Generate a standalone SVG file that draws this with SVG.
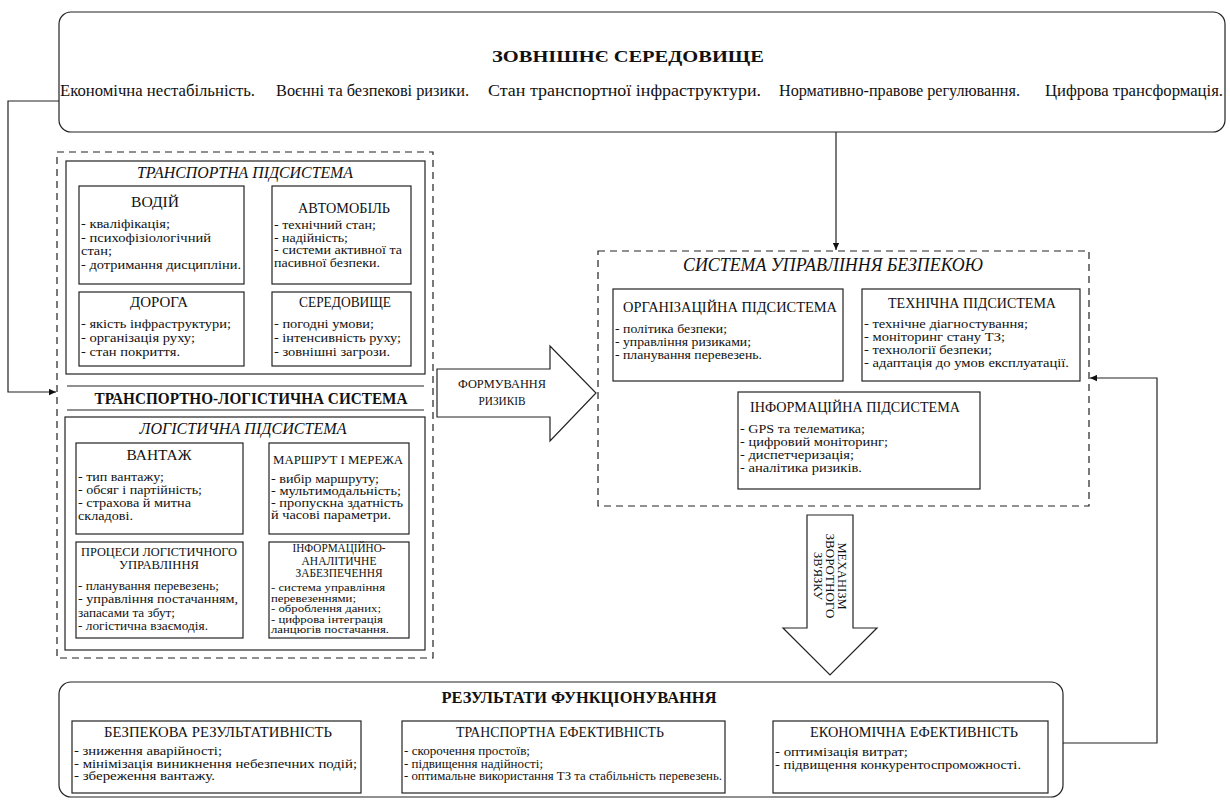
<svg xmlns="http://www.w3.org/2000/svg" width="1230" height="800" viewBox="0 0 1230 800">
<defs>
<style>
text{font-family:"Liberation Serif","Times New Roman",serif;fill:#111}
.b{fill:#fff;stroke:#222;stroke-width:1.2}
.d{fill:none;stroke:#222;stroke-width:1.2;stroke-dasharray:7 5}
.c{fill:none;stroke:#222;stroke-width:1.2}
.f{fill:#fff;stroke:#222;stroke-width:1.2}
.row{font-size:16px}
.hb{font-size:17px;font-weight:bold}
.it{font-size:16px;font-style:italic}
.it18{font-size:18px;font-style:italic}
.ti{font-size:14.5px}
.ti13{font-size:13px}
.ti12{font-size:12px}
.s135{font-size:13.5px}
.s13{font-size:13px}
.s125{font-size:12.5px}
.s12{font-size:12px}
.s105{font-size:10.5px}
.m{text-anchor:middle}
</style>
<marker id="ah" viewBox="0 0 10 10" refX="10" refY="5" markerWidth="8" markerHeight="7" orient="auto" markerUnits="userSpaceOnUse"><path d="M0,0.5 L10,5 L0,9.5 z" fill="#111"/></marker>
</defs>
<rect width="1230" height="800" fill="#fff"/>

<g id="connectors">
<polyline class="c" points="59,101 8,101 8,392 56,392" marker-end="url(#ah)"/>
<line class="c" x1="836" y1="132" x2="836" y2="250" marker-end="url(#ah)"/>
<line class="c" x1="361" y1="756" x2="401" y2="756" marker-end="url(#ah)"/>
<line class="c" x1="725" y1="756" x2="772" y2="756" marker-end="url(#ah)"/>
<polyline class="c" points="1063,743 1157,743 1157,378 1090,378" marker-end="url(#ah)"/>
</g>

<g id="external">
<rect class="b" x="59" y="12" width="1166" height="120" rx="12"/>
<text class="hb m" x="628" y="62" textLength="272" lengthAdjust="spacingAndGlyphs">ЗОВНІШНЄ СЕРЕДОВИЩЕ</text>
<text class="row" x="60" y="96" textLength="195" lengthAdjust="spacingAndGlyphs">Економічна нестабільність.</text>
<text class="row" x="276" y="96" textLength="193" lengthAdjust="spacingAndGlyphs">Воєнні та безпекові ризики.</text>
<text class="row" x="488" y="96" textLength="273" lengthAdjust="spacingAndGlyphs">Стан транспортної інфраструктури.</text>
<text class="row" x="779" y="96" textLength="241" lengthAdjust="spacingAndGlyphs">Нормативно-правове регулювання.</text>
<text class="row" x="1045" y="96" textLength="178" lengthAdjust="spacingAndGlyphs">Цифрова трансформація.</text>
</g>

<g id="transport-logistics-system">
<rect class="d" x="57" y="152" width="376" height="506"/>
<line class="c" x1="67" y1="386" x2="424" y2="386"/>
<text class="hb m" x="251" y="404" textLength="313" lengthAdjust="spacingAndGlyphs">ТРАНСПОРТНО-ЛОГІСТИЧНА СИСТЕМА</text>
<line class="c" x1="67" y1="410" x2="424" y2="410"/>
</g>

<g id="transport-subsystem">
<rect class="b" x="66" y="161" width="359" height="213"/>
<text class="it m" x="245" y="178" textLength="216" lengthAdjust="spacingAndGlyphs">ТРАНСПОРТНА ПІДСИСТЕМА</text>
</g>

<g id="driver">
<rect class="b" x="79" y="186" width="165" height="98"/>
<text class="ti m" x="155" y="207" textLength="48" lengthAdjust="spacingAndGlyphs">ВОДІЙ</text>
<text class="s135" x="81" y="228" textLength="89" lengthAdjust="spacingAndGlyphs">- кваліфікація;</text>
<text class="s135" x="81" y="241.5" textLength="130" lengthAdjust="spacingAndGlyphs">- психофізіологічний</text>
<text class="s135" x="81" y="255" textLength="31" lengthAdjust="spacingAndGlyphs">стан;</text>
<text class="s135" x="81" y="268.5" textLength="160" lengthAdjust="spacingAndGlyphs">- дотримання дисципліни.</text>
</g>

<g id="vehicle">
<rect class="b" x="272" y="186" width="139" height="98"/>
<text class="ti m" x="344" y="213" textLength="92" lengthAdjust="spacingAndGlyphs">АВТОМОБІЛЬ</text>
<text class="s125" x="274" y="229" textLength="102" lengthAdjust="spacingAndGlyphs">- технічний стан;</text>
<text class="s125" x="274" y="241.5" textLength="74" lengthAdjust="spacingAndGlyphs">- надійність;</text>
<text class="s125" x="274" y="254" textLength="128" lengthAdjust="spacingAndGlyphs">- системи активної та</text>
<text class="s125" x="274" y="266.5" textLength="106" lengthAdjust="spacingAndGlyphs">пасивної безпеки.</text>
</g>

<g id="road">
<rect class="b" x="79" y="292" width="165" height="74"/>
<text class="ti m" x="159" y="307" textLength="58" lengthAdjust="spacingAndGlyphs">ДОРОГА</text>
<text class="s135" x="81" y="328" textLength="150" lengthAdjust="spacingAndGlyphs">- якість інфраструктури;</text>
<text class="s135" x="81" y="342" textLength="114" lengthAdjust="spacingAndGlyphs">- організація руху;</text>
<text class="s135" x="81" y="356" textLength="99" lengthAdjust="spacingAndGlyphs">- стан покриття.</text>
</g>

<g id="environment">
<rect class="b" x="272" y="292" width="139" height="74"/>
<text class="ti m" x="345" y="307" textLength="92" lengthAdjust="spacingAndGlyphs">СЕРЕДОВИЩЕ</text>
<text class="s135" x="274" y="328" textLength="100" lengthAdjust="spacingAndGlyphs">- погодні умови;</text>
<text class="s135" x="274" y="342" textLength="127" lengthAdjust="spacingAndGlyphs">- інтенсивність руху;</text>
<text class="s135" x="274" y="356" textLength="116" lengthAdjust="spacingAndGlyphs">- зовнішні загрози.</text>
</g>

<g id="logistics-subsystem">
<rect class="b" x="65" y="417" width="360" height="233"/>
<text class="it m" x="243" y="434" textLength="207" lengthAdjust="spacingAndGlyphs">ЛОГІСТИЧНА ПІДСИСТЕМА</text>
</g>

<g id="cargo">
<rect class="b" x="76" y="443" width="167" height="91"/>
<text class="ti m" x="159" y="460" textLength="65" lengthAdjust="spacingAndGlyphs">ВАНТАЖ</text>
<text class="s13" x="78" y="481" textLength="86" lengthAdjust="spacingAndGlyphs">- тип вантажу;</text>
<text class="s13" x="78" y="494" textLength="124" lengthAdjust="spacingAndGlyphs">- обсяг і партійність;</text>
<text class="s13" x="78" y="507" textLength="113" lengthAdjust="spacingAndGlyphs">- страхова й митна</text>
<text class="s13" x="78" y="520" textLength="55" lengthAdjust="spacingAndGlyphs">складові.</text>
</g>

<g id="route-network">
<rect class="b" x="269" y="443" width="140" height="91"/>
<text class="ti13 m" x="338" y="464" textLength="130" lengthAdjust="spacingAndGlyphs">МАРШРУТ І МЕРЕЖА</text>
<text class="s12" x="271" y="483" textLength="108" lengthAdjust="spacingAndGlyphs">- вибір маршруту;</text>
<text class="s12" x="271" y="495" textLength="130" lengthAdjust="spacingAndGlyphs">- мультимодальність;</text>
<text class="s12" x="271" y="507" textLength="132" lengthAdjust="spacingAndGlyphs">- пропускна здатність</text>
<text class="s12" x="271" y="519" textLength="120" lengthAdjust="spacingAndGlyphs">й часові параметри.</text>
</g>

<g id="logistics-processes">
<rect class="b" x="76" y="542" width="167" height="96"/>
<text class="ti13 m" x="159" y="556" textLength="156" lengthAdjust="spacingAndGlyphs">ПРОЦЕСИ ЛОГІСТИЧНОГО</text>
<text class="ti13 m" x="159" y="569" textLength="80" lengthAdjust="spacingAndGlyphs">УПРАВЛІННЯ</text>
<text class="s13" x="78" y="590" textLength="141" lengthAdjust="spacingAndGlyphs">- планування перевезень;</text>
<text class="s13" x="78" y="603" textLength="160" lengthAdjust="spacingAndGlyphs">- управління постачанням,</text>
<text class="s13" x="78" y="617" textLength="97" lengthAdjust="spacingAndGlyphs">запасами та збут;</text>
<text class="s13" x="78" y="630" textLength="130" lengthAdjust="spacingAndGlyphs">- логістична взаємодія.</text>
</g>

<g id="info-analytics">
<rect class="b" x="269" y="542" width="140" height="96"/>
<text class="ti12 m" x="339" y="552" textLength="93" lengthAdjust="spacingAndGlyphs">ІНФОРМАЦІЙНО-</text>
<text class="ti12 m" x="339" y="564.5" textLength="75" lengthAdjust="spacingAndGlyphs">АНАЛІТИЧНЕ</text>
<text class="ti12 m" x="339" y="577" textLength="87" lengthAdjust="spacingAndGlyphs">ЗАБЕЗПЕЧЕННЯ</text>
<text class="s105" x="271" y="591" textLength="114" lengthAdjust="spacingAndGlyphs">- система управління</text>
<text class="s105" x="271" y="601.5" textLength="85" lengthAdjust="spacingAndGlyphs">перевезеннями;</text>
<text class="s105" x="271" y="612" textLength="110" lengthAdjust="spacingAndGlyphs">- оброблення даних;</text>
<text class="s105" x="271" y="622.5" textLength="112" lengthAdjust="spacingAndGlyphs">- цифрова інтеграція</text>
<text class="s105" x="271" y="633" textLength="118" lengthAdjust="spacingAndGlyphs">ланцюгів постачання.</text>
</g>

<g id="risk-formation">
<polygon class="f" points="437,369 550,369 550,346 596,393 550,441 550,417 437,417"/>
<text class="ti13 m" x="502" y="388" textLength="88" lengthAdjust="spacingAndGlyphs">ФОРМУВАННЯ</text>
<text class="ti13 m" x="502" y="405" textLength="47" lengthAdjust="spacingAndGlyphs">РИЗИКІВ</text>
</g>

<g id="safety-management-system">
<rect class="d" x="598" y="251" width="491" height="255"/>
<text class="it18 m" x="833" y="271" textLength="300" lengthAdjust="spacingAndGlyphs">СИСТЕМА УПРАВЛІННЯ БЕЗПЕКОЮ</text>
</g>

<g id="organizational-subsystem">
<rect class="b" x="613" y="289" width="230" height="92"/>
<text class="ti m" x="730" y="312" textLength="214" lengthAdjust="spacingAndGlyphs">ОРГАНІЗАЦІЙНА ПІДСИСТЕМА</text>
<text class="s13" x="615" y="333" textLength="112" lengthAdjust="spacingAndGlyphs">- політика безпеки;</text>
<text class="s13" x="615" y="346" textLength="136" lengthAdjust="spacingAndGlyphs">- управління ризиками;</text>
<text class="s13" x="615" y="359" textLength="147" lengthAdjust="spacingAndGlyphs">- планування перевезень.</text>
</g>

<g id="technical-subsystem">
<rect class="b" x="862" y="289" width="218" height="92"/>
<text class="ti m" x="972" y="308" textLength="168" lengthAdjust="spacingAndGlyphs">ТЕХНІЧНА ПІДСИСТЕМА</text>
<text class="s13" x="864" y="328" textLength="164" lengthAdjust="spacingAndGlyphs">- технічне діагностування;</text>
<text class="s13" x="864" y="341" textLength="141" lengthAdjust="spacingAndGlyphs">- моніторинг стану ТЗ;</text>
<text class="s13" x="864" y="354" textLength="128" lengthAdjust="spacingAndGlyphs">- технології безпеки;</text>
<text class="s13" x="864" y="367" textLength="205" lengthAdjust="spacingAndGlyphs">- адаптація до умов експлуатації.</text>
</g>

<g id="information-subsystem">
<rect class="b" x="738" y="392" width="242" height="97"/>
<text class="ti m" x="855" y="412" textLength="210" lengthAdjust="spacingAndGlyphs">ІНФОРМАЦІЙНА ПІДСИСТЕМА</text>
<text class="s13" x="740" y="433" textLength="125" lengthAdjust="spacingAndGlyphs">- GPS та телематика;</text>
<text class="s13" x="740" y="446" textLength="148" lengthAdjust="spacingAndGlyphs">- цифровий моніторинг;</text>
<text class="s13" x="740" y="459" textLength="114" lengthAdjust="spacingAndGlyphs">- диспетчеризація;</text>
<text class="s13" x="740" y="472" textLength="122" lengthAdjust="spacingAndGlyphs">- аналітика ризиків.</text>
</g>

<g id="feedback-mechanism">
<polygon class="f" points="807,515 853,515 853,628 877,628 830,675 783,628 807,628"/>
<text class="s12 m" transform="translate(838,576) rotate(90)" textLength="67" lengthAdjust="spacingAndGlyphs">МЕХАНІЗМ</text>
<text class="s12 m" transform="translate(826,576) rotate(90)" textLength="85" lengthAdjust="spacingAndGlyphs">ЗВОРОТНОГО</text>
<text class="s12 m" transform="translate(814,576) rotate(90)" textLength="48" lengthAdjust="spacingAndGlyphs">ЗВ'ЯЗКУ</text>
</g>

<g id="results">
<rect class="b" x="59" y="682" width="1004" height="115" rx="12"/>
<text class="hb m" x="579" y="703" textLength="275" lengthAdjust="spacingAndGlyphs">РЕЗУЛЬТАТИ ФУНКЦІОНУВАННЯ</text>
</g>

<g id="safety-effectiveness">
<rect class="b" x="72" y="721" width="289" height="72"/>
<text class="ti m" x="218" y="737" textLength="228" lengthAdjust="spacingAndGlyphs">БЕЗПЕКОВА РЕЗУЛЬТАТИВНІСТЬ</text>
<text class="s125" x="74" y="755" textLength="148" lengthAdjust="spacingAndGlyphs">- зниження аварійності;</text>
<text class="s125" x="74" y="767.5" textLength="283" lengthAdjust="spacingAndGlyphs">- мінімізація виникнення небезпечних подій;</text>
<text class="s125" x="74" y="780" textLength="141" lengthAdjust="spacingAndGlyphs">- збереження вантажу.</text>
</g>

<g id="transport-efficiency">
<rect class="b" x="402" y="721" width="323" height="72"/>
<text class="ti m" x="560" y="737" textLength="208" lengthAdjust="spacingAndGlyphs">ТРАНСПОРТНА ЕФЕКТИВНІСТЬ</text>
<text class="s125" x="404" y="755" textLength="126" lengthAdjust="spacingAndGlyphs">- скорочення простоїв;</text>
<text class="s125" x="404" y="767.5" textLength="139" lengthAdjust="spacingAndGlyphs">- підвищення надійності;</text>
<text class="s125" x="404" y="780" textLength="318" lengthAdjust="spacingAndGlyphs">- оптимальне використання ТЗ та стабільність перевезень.</text>
</g>

<g id="economic-efficiency">
<rect class="b" x="773" y="721" width="275" height="72"/>
<text class="ti m" x="914" y="737" textLength="208" lengthAdjust="spacingAndGlyphs">ЕКОНОМІЧНА ЕФЕКТИВНІСТЬ</text>
<text class="s125" x="775" y="756" textLength="133" lengthAdjust="spacingAndGlyphs">- оптимізація витрат;</text>
<text class="s125" x="775" y="768.5" textLength="246" lengthAdjust="spacingAndGlyphs">- підвищення конкурентоспроможності.</text>
</g>
</svg>
